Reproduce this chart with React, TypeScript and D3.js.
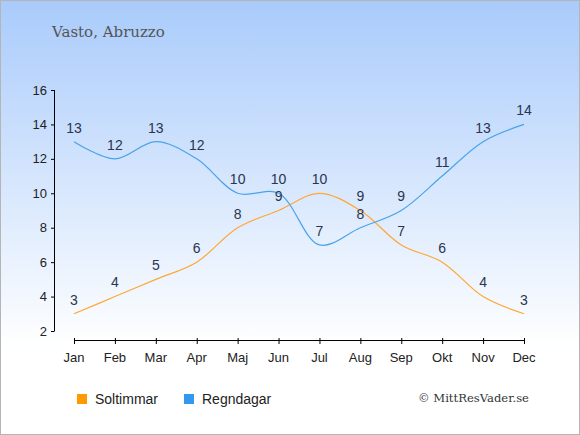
import React, { useEffect } from "react";
import * as d3 from "d3";

const months = ["Jan", "Feb", "Mar", "Apr", "Maj", "Jun", "Jul", "Aug", "Sep", "Okt", "Nov", "Dec"];
const sunHours = [3, 4, 5, 6, 8, 9, 10, 9, 7, 6, 4, 3];
const rainDays = [13, 12, 13, 12, 10, 10, 7, 8, 9, 11, 13, 14];
const yTicks = [2, 4, 6, 8, 10, 12, 14, 16];
const seriesNames = ["Soltimmar", "Regndagar"];
const title = "Vasto, Abruzzo";
const credit = "© MittResVader.se";

const W = 580;
const H = 435;
const SUN = "#ffa733";
const RAIN = "#4aa3ea";

export default function App() {
  useEffect(() => {
    document.body.style.margin = "0";
  }, []);

  const x = d3.scalePoint<string>().domain(months).range([74, 524]);
  const y = d3.scaleLinear().domain([2, 16]).range([331, 90]);

  const line = d3
    .line<number>()
    .x((_, i) => x(months[i]) as number)
    .y((d) => y(d))
    .curve(d3.curveCatmullRom.alpha(0.5));

  const series = [
    { name: seriesNames[0], values: sunHours, color: SUN, legend: "#ff9900" },
    { name: seriesNames[1], values: rainDays, color: RAIN, legend: "#3399ee" },
  ];

  const sans = "'Liberation Sans', Arial, sans-serif";
  const serif = "'DejaVu Serif', Georgia, serif";

  return (
    <svg width={W} height={H} style={{ display: "block" }}>
      <defs>
        <linearGradient id="bg" x1="0" y1="0" x2="0" y2="1">
          <stop offset="0" stopColor="#a9cbfb" />
          <stop offset="0.8" stopColor="#ffffff" />
          <stop offset="1" stopColor="#ffffff" />
        </linearGradient>
      </defs>
      <rect x={0.5} y={0.5} width={W - 1} height={H - 1} fill="url(#bg)" stroke="#b5b5b5" />
      <text x={52} y={37} fontFamily={serif} fontSize={15} fill="#555">
        {title}
      </text>

      {/* Y axis */}
      <line x1={54.5} x2={54.5} y1={y(16)} y2={y(2)} stroke="#000" />
      {yTicks.map((t) => (
        <g key={t}>
          <line x1={51} x2={54.5} y1={y(t) + 0.5} y2={y(t) + 0.5} stroke="#000" />
          <text x={47} y={y(t)} dy="0.35em" textAnchor="end" fontFamily={sans} fontSize={13} fill="#222">
            {t}
          </text>
        </g>
      ))}

      {/* X axis */}
      <line x1={x(months[0])} x2={x(months[11])} y1={340.5} y2={340.5} stroke="#000" />
      {months.map((m) => (
        <g key={m}>
          <line x1={(x(m) as number) + 0.5} x2={(x(m) as number) + 0.5} y1={338} y2={344} stroke="#000" />
          <text x={x(m)} y={357} dy="0.35em" textAnchor="middle" fontFamily={sans} fontSize={13} fill="#222">
            {m}
          </text>
        </g>
      ))}

      {series.map((s) => (
        <path key={s.name} d={line(s.values) || ""} fill="none" stroke={s.color} strokeWidth={1.2} />
      ))}
      {series.map((s) =>
        s.values.map((v, i) => (
          <text
            key={s.name + i}
            x={x(months[i])}
            y={y(v) - 14}
            dy="0.35em"
            textAnchor="middle"
            fontFamily={sans}
            fontSize={14}
            fill="#2a3550"
          >
            {v}
          </text>
        ))
      )}

      {/* Legend */}
      {series.map((s, i) => {
        const lx = i === 0 ? 77 : 184;
        return (
          <g key={s.name}>
            <rect x={lx} y={394} width={10} height={10} fill={s.legend} />
            <text x={lx + 18} y={399} dy="0.35em" fontFamily={sans} fontSize={14} fill="#222">
              {s.name}
            </text>
          </g>
        );
      })}
      <text x={418} y={398} dy="0.35em" fontFamily={serif} fontSize={11.6} fill="#333">
        {credit}
      </text>
    </svg>
  );
}
